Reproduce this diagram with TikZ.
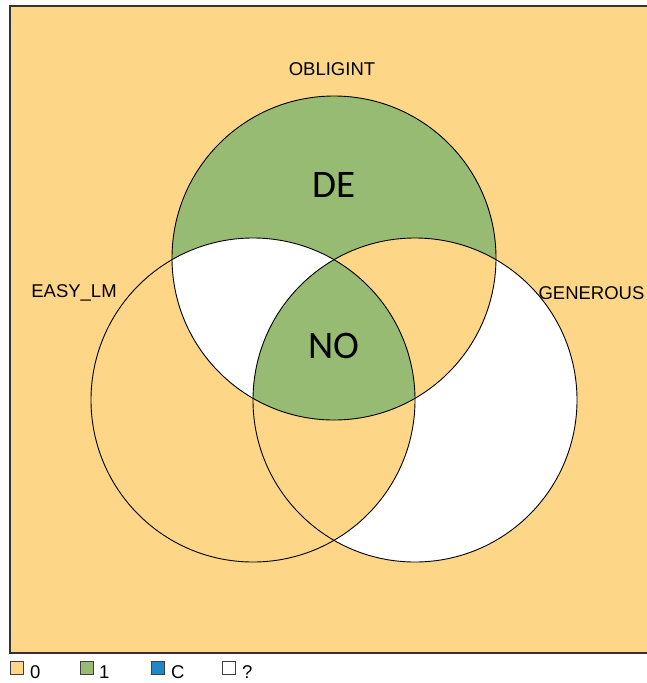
\documentclass[tikz,border=0pt]{standalone}
\usepackage{fontspec}
\setmainfont{Liberation Sans}
\newfontfamily\carlitofont{Carlito}
\definecolor{vorange}{RGB}{253,214,136}
\definecolor{vgreen}{RGB}{151,187,114}
\definecolor{vblue}{RGB}{30,136,200}
\tikzset{
  setlbl/.style={anchor=base, inner sep=0pt, font=\fontsize{18.5}{20}\selectfont},
  biglbl/.style={anchor=base, inner sep=0pt, font=\carlitofont\fontsize{39}{42}\selectfont},
  legsq/.style={draw=black!75, line width=0.9pt, minimum size=13.5pt, inner sep=0pt},
  legtxt/.style={anchor=base west, inner sep=0pt, font=\fontsize{18.5}{20}\selectfont},
  outline/.style={draw=black, line width=0.9pt}
}
\begin{document}
\begin{tikzpicture}[x=1pt,y=-1pt]
\useasboundingbox (0,0) rectangle (647,683);
\fill[white] (0,0) rectangle (647,683);
\coordinate (cT) at (334,258);
\coordinate (cL) at (253,400);
\coordinate (cR) at (415,400);
\def\R{162}
\begin{scope}
  \clip (0,0) rectangle (647,683);
  \draw[fill=vorange, draw=black!80, line width=1.2pt] (10,6) rectangle (662,653);
\end{scope}
% regions
\fill[white] (cR) circle[radius=\R];
\fill[vorange] (cL) circle[radius=\R];
\fill[vgreen] (cT) circle[radius=\R];
\begin{scope}
  \clip (cT) circle[radius=\R];
  \fill[white] (cL) circle[radius=\R];
  \fill[vorange] (cR) circle[radius=\R];
  \clip (cL) circle[radius=\R];
  \fill[vgreen] (cR) circle[radius=\R];
\end{scope}
% outlines
\draw[outline] (cT) circle[radius=\R];
\draw[outline] (cL) circle[radius=\R];
\draw[outline] (cR) circle[radius=\R];
% labels
\node[setlbl] (obl) at (332,75) {OBLIGINT};
\node[setlbl] (easy) at (74,297) {EASY\_LM};
\node[setlbl] (gen) at (591.5,299) {GENEROUS};
\node[biglbl] (de) at (334,197) {DE};
\node[biglbl] (no) at (334,358) {NO};
% legend
\node[legsq, fill=vorange] (sq0) at (17,668) {};
\node[legsq, fill=vgreen] (sq1) at (87,668) {};
\node[legsq, fill=vblue] (sqc) at (158,668) {};
\node[legsq, fill=white] (sqq) at (229,668) {};
\node[legtxt] (t0) at (30,678) {0};
\node[legtxt] (t1) at (99,678) {1};
\node[legtxt] (tc) at (171,678) {C};
\node[legtxt] (tq) at (242,678) {?};
\end{tikzpicture}
\end{document}
